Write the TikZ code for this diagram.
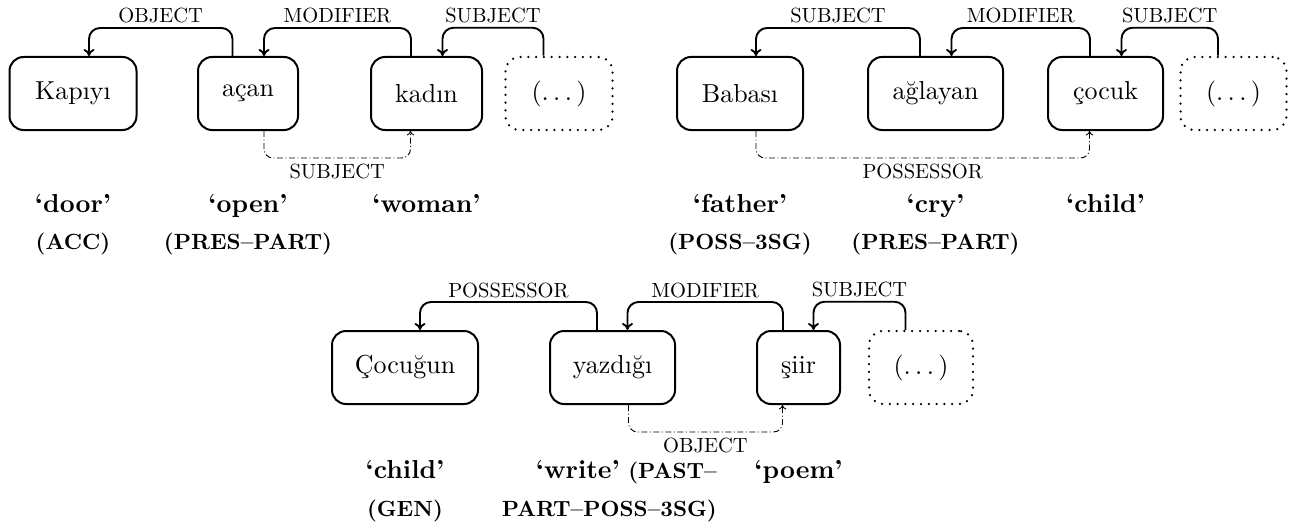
\documentclass[tikz,border=0pt]{standalone}
\usetikzlibrary{arrows.meta}
% Latin Modern at its 10pt design size, scaled up
\font\nodefont="[lmroman10-regular]:+tlig;" at 26pt
\font\labfont="[lmroman10-regular]:+tlig;" at 20.5pt
\font\glfont="[lmroman10-bold]:+tlig;" at 26pt
\font\grfont="[lmroman10-bold]:+tlig;" at 22pt
\newcommand{\etcdots}{(.\kern.167em.\kern.167em.\kern.167em)}
\tikzset{
  word/.style={draw, line width=2pt, rounded corners=14pt, minimum height=73pt,
    inner sep=0pt, font=\nodefont},
  more/.style={word, line width=2.5pt, line cap=round, dash pattern=on 0pt off 7.8pt},
  dep/.style={line width=1.9pt, rounded corners=11pt,
    -{Computer Modern Rightarrow[length=7pt,width=11pt]}},
  coref/.style={line width=0.9pt, rounded corners=9pt,
    dash pattern=on 6pt off 2.5pt on 1pt off 2.5pt,
    -{Computer Modern Rightarrow[length=4.5pt,width=7.5pt]}},
  lab/.style={font=\labfont, inner sep=0pt, anchor=base},
  gl/.style={font=\glfont, inner sep=0pt, anchor=base},
  gr/.style={font=\grfont, inner sep=0pt, anchor=base},
}
\begin{document}
\begin{tikzpicture}[x=1pt,y=-1pt]
\useasboundingbox (0,0) rectangle (1289,527);

% ---- Kapıyı açan kadın ----
\node[word, minimum width=127pt] (k1) at (73,93.5) {Kapıyı};
\node[word, minimum width=100pt] (k2) at (248,93.5) {açan};
\node[word, minimum width=111pt] (k3) at (426.5,93.5) {kadın};
\node[more, minimum width=107pt] (k4) at (559,93.5) {\etcdots};

\draw[dep] ([xshift=-15.5pt]k2.north) -- ++(0,-28)
  -| node[lab, pos=.25, yshift=5pt] {OBJECT} ([xshift=16pt]k1.north);
\draw[dep] ([xshift=-15.5pt]k3.north) -- ++(0,-28)
  -| node[lab, pos=.25, yshift=5pt] {MODIFIER} ([xshift=16pt]k2.north);
\draw[dep] ([xshift=-15.5pt]k4.north) -- ++(0,-28)
  -| node[lab, pos=.25, yshift=5pt] {SUBJECT} ([xshift=16pt]k3.north);
\draw[coref] ([xshift=16pt]k2.south) -- ++(0,27)
  -| node[lab, pos=.25, yshift=-20pt] {SUBJECT} ([xshift=-16pt]k3.south);

\node[gl] (kg1) at (73,212) {‘door’};
\node[gl] (kg2) at (248,212) {‘open’};
\node[gl] (kg3) at (426.5,212) {‘woman’};
\node[gr] (kr1) at (73,249) {(ACC)};
\node[gr] (kr2) at (248,249) {(PRES–PART)};

% ---- Babası ağlayan çocuk ----
\node[word, minimum width=126pt] (b1) at (740,93.5) {Babası};
\node[word, minimum width=135pt] (b2) at (935.5,93.5) {ağlayan};
\node[word, minimum width=115pt] (b3) at (1105.5,93.5) {çocuk};
\node[more, minimum width=106pt] (b4) at (1233.5,93.5) {\etcdots};

\draw[dep] ([xshift=-15.5pt]b2.north) -- ++(0,-28)
  -| node[lab, pos=.25, yshift=5pt] {SUBJECT} ([xshift=16pt]b1.north);
\draw[dep] ([xshift=-15.5pt]b3.north) -- ++(0,-28)
  -| node[lab, pos=.25, yshift=5pt] {MODIFIER} ([xshift=16pt]b2.north);
\draw[dep] ([xshift=-15.5pt]b4.north) -- ++(0,-28)
  -| node[lab, pos=.25, yshift=5pt] {SUBJECT} ([xshift=16pt]b3.north);
\draw[coref] ([xshift=16pt]b1.south) -- ++(0,27)
  -| node[lab, pos=.25, yshift=-20pt] {POSSESSOR} ([xshift=-16pt]b3.south);

\node[gl] (bg1) at (740,212) {‘father’};
\node[gl] (bg2) at (935.5,212) {‘cry’};
\node[gl] (bg3) at (1105.5,212) {‘child’};
\node[gr] (br1) at (740,249) {(POSS–3SG)};
\node[gr] (br2) at (935.5,249) {(PRES–PART)};

% ---- Çocuğun yazdığı şiir ----
\node[word, minimum width=146pt] (c1) at (405,367.5) {Çocuğun};
\node[word, minimum width=125pt] (c2) at (612.5,367.5) {yazdığı};
\node[word, minimum width=83pt] (c3) at (798.5,367.5) {şiir};
\node[more, minimum width=104pt] (c4) at (921,367.5) {\etcdots};

\draw[dep] ([xshift=-15.5pt]c2.north) -- ++(0,-28)
  -| node[lab, pos=.25, yshift=5pt] {POSSESSOR} ([xshift=15pt]c1.north);
\draw[dep] ([xshift=-15.5pt]c3.north) -- ++(0,-28)
  -| node[lab, pos=.25, yshift=5pt] {MODIFIER} ([xshift=15pt]c2.north);
\draw[dep] ([xshift=-15.5pt]c4.north) -- ++(0,-28)
  -| node[lab, pos=.25, yshift=5pt] {SUBJECT} ([xshift=15pt]c3.north);
\draw[coref] ([xshift=16pt]c2.south) -- ++(0,27)
  -| node[lab, pos=.25, yshift=-20pt] {OBJECT} ([xshift=-16pt]c3.south);

\node[gl] (cg1) at (405,478) {‘child’};
\node[gr, anchor=base east] (cg2) at (717,478) {{\glfont ‘write’} (PAST–};
\node[gl] (cg3) at (798.5,478) {‘poem’};
\node[gr] (cr1) at (405,516) {(GEN)};
\node[gr, anchor=base east] (cr2) at (717,516) {PART–POSS–3SG)};
\end{tikzpicture}
\end{document}
